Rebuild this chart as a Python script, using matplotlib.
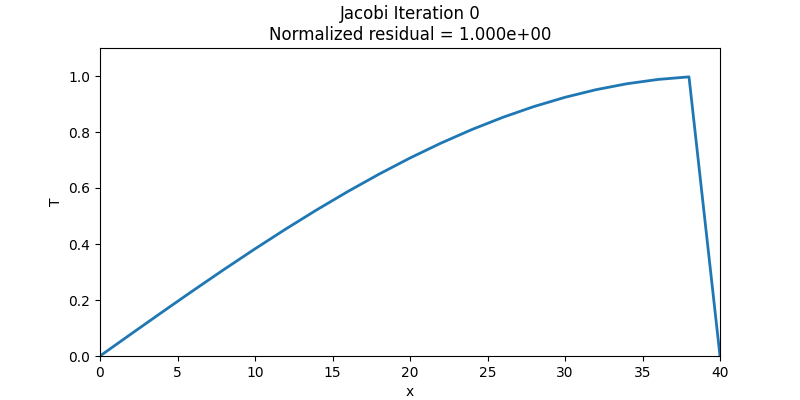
import matplotlib
matplotlib.use("Agg")
import matplotlib.pyplot as plt

# temperature profile
x = [0, 2, 4, 6, 8, 10, 12, 14, 16, 18, 20, 22, 24, 26, 28, 30, 32, 34, 36, 38, 40]
T = [0.0, 0.0785, 0.1564, 0.2334, 0.3090, 0.3827, 0.4540, 0.5225, 0.5878, 0.6494,
     0.7071, 0.7604, 0.8090, 0.8526, 0.8910, 0.9239, 0.9511, 0.9724, 0.9877, 0.9969, 0.0]

fig, ax = plt.subplots(figsize=(8, 4), dpi=100)
ax.plot(x, T, lw=2, color="#1f77b4")
ax.set_xlim(0, 40)
ax.set_ylim(0, 1.1)
ax.set_xlabel("x")
ax.set_ylabel("T")
ax.set_title("Jacobi Iteration 0\nNormalized residual = 1.000e+00")
fig.savefig("out.png", dpi=100)
